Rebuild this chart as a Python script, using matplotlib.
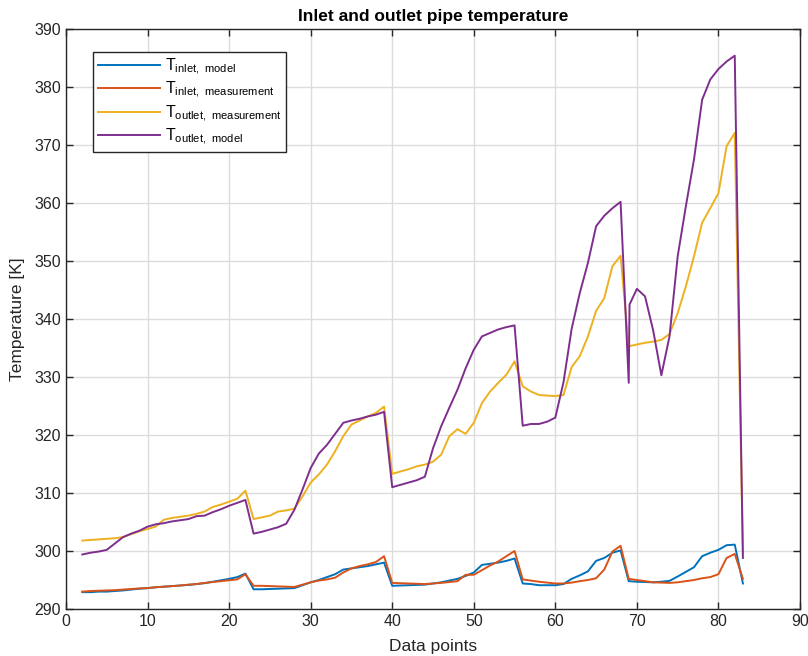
#!/usr/bin/env python
# -*- coding: utf-8 -*-

'''
Inlet and outlet pipe temperature, model vs. measurement.
'''

import matplotlib
matplotlib.use('Agg')
import matplotlib.pyplot as plt

plt.rcParams['font.family'] = ['Liberation Sans', 'DejaVu Sans']
plt.rcParams['mathtext.fontset'] = 'custom'
plt.rcParams['mathtext.rm'] = 'Liberation Sans'

# data points 2..83
x = list(range(2, 84))

t_inlet_model = [
    292.9, 292.9, 293.0, 293.0, 293.1, 293.2, 293.35, 293.5, 293.6, 293.75,
    293.85, 293.95, 294.05, 294.15, 294.3, 294.45, 294.7, 294.95, 295.2, 295.5,
    296.1, 293.4, 293.4, 293.45, 293.5, 293.55, 293.6, 294.1, 294.6, 295.0,
    295.5, 296.0, 296.8, 297.0, 297.2, 297.4, 297.7, 298.0, 294.0, 294.05,
    294.1, 294.15, 294.2, 294.4, 294.6, 294.9, 295.2, 295.7, 296.3, 297.6,
    297.8, 298.0, 298.3, 298.7, 294.4, 294.3, 294.1, 294.1, 294.1, 294.3,
    295.2, 295.8, 296.5, 298.3, 298.8, 299.7, 300.1, 294.8, 294.7, 294.65,
    294.6, 294.7, 294.85, 295.6, 296.4, 297.2, 299.1, 299.7, 300.2, 301.0,
    301.1, 294.4]

t_inlet_meas = [
    293.0, 293.1, 293.15, 293.2, 293.25, 293.35, 293.45, 293.55, 293.6, 293.75,
    293.85, 293.95, 294.05, 294.2, 294.3, 294.5, 294.65, 294.8, 294.95, 295.1,
    296.0, 294.0, 294.0, 293.95, 293.9, 293.85, 293.8, 294.2, 294.6, 294.9,
    295.1, 295.4, 296.3, 297.0, 297.4, 297.7, 298.1, 299.1, 294.5, 294.45,
    294.4, 294.35, 294.3, 294.4, 294.5, 294.65, 294.8, 295.9, 295.9, 296.7,
    297.5, 298.2, 299.1, 300.0, 295.1, 294.9, 294.7, 294.55, 294.4, 294.4,
    294.55, 294.8, 295.0, 295.3, 296.8, 299.9, 300.9, 295.2, 295.0, 294.8,
    294.6, 294.55, 294.5, 294.6, 294.8, 295.0, 295.3, 295.5, 296.0, 298.8,
    299.5, 295.2]

t_outlet_meas = [
    301.8, 301.9, 302.0, 302.1, 302.2, 302.4, 302.9, 303.4, 303.8, 304.2,
    305.4, 305.7, 305.9, 306.1, 306.4, 306.8, 307.6, 308.0, 308.5, 309.0,
    310.4, 305.5, 305.8, 306.1, 306.8, 307.0, 307.3, 309.4, 311.8, 313.2,
    314.9, 317.2, 319.8, 321.8, 322.5, 323.2, 323.8, 324.9, 313.3, 313.7,
    314.1, 314.6, 314.9, 315.4, 316.6, 319.8, 321.0, 320.2, 322.1, 325.5,
    327.5, 329.0, 330.4, 332.7, 328.4, 327.5, 326.9, 326.8, 326.7, 326.9,
    331.7, 333.6, 337.0, 341.4, 343.6, 349.1, 350.9, 335.3, 335.6, 335.9,
    336.1, 336.4, 337.4, 341.0, 345.6, 350.8, 356.6, 359.1, 361.7, 369.8,
    372.1, 299.5]

# the model outlet has an extra point right after the drop at 69
x_outlet_model = list(range(2, 70)) + [69.1] + list(range(70, 84))
t_outlet_model = [
    299.4, 299.7, 299.9, 300.2, 301.3, 302.4, 303.0, 303.5, 304.2, 304.6,
    304.8, 305.1, 305.3, 305.5, 306.0, 306.1, 306.7, 307.2, 307.8, 308.3,
    308.8, 303.0, 303.3, 303.7, 304.1, 304.7, 307.1, 310.6, 314.3, 316.8,
    318.3, 320.2, 322.1, 322.5, 322.8, 323.2, 323.5, 324.0, 311.0, 311.4,
    311.8, 312.2, 312.8, 317.7, 321.5, 324.7, 327.8, 331.5, 334.7, 337.0,
    337.6, 338.2, 338.6, 338.9, 321.6, 321.9, 321.9, 322.3, 323.0, 329.1,
    338.3, 344.5, 349.7, 356.0, 357.8, 359.1, 360.2, 329.0, 342.5, 345.2,
    343.9, 338.0, 330.3, 337.0, 350.8, 359.4, 367.5, 377.8, 381.3, 383.1,
    384.4, 385.4, 298.8]

fig = plt.figure(figsize=(8.08, 6.56), dpi=100)
ax = fig.add_axes([66 / 808, 1 - 609 / 656, 734 / 808, 580 / 656])

lw = 1.4
ax.plot(x, t_inlet_model, color='#0072BD', lw=lw,
        label=r'$\mathregular{T_{inlet,\ model}}$')
ax.plot(x, t_inlet_meas, color='#D95319', lw=lw,
        label=r'$\mathregular{T_{inlet,\ measurement}}$')
ax.plot(x, t_outlet_meas, color='#EDB120', lw=lw,
        label=r'$\mathregular{T_{outlet,\ measurement}}$')
ax.plot(x_outlet_model, t_outlet_model, color='#7E2F8E', lw=lw,
        label=r'$\mathregular{T_{outlet,\ model}}$')

ax.set_xlim(0, 90)
ax.set_ylim(290, 390)
ax.set_xticks(range(0, 91, 10))
ax.set_yticks(range(290, 391, 10))
ax.grid(True, color='#dcdcdc', lw=1)
ax.set_axisbelow(True)
ax.tick_params(direction='in', top=True, right=True, length=5,
               width=1, labelsize=11.5, colors='#262626')
for s in ax.spines.values():
    s.set_color('#262626')
    s.set_linewidth(1)

ax.set_xlabel('Data points', fontsize=12.5, color='#262626', labelpad=7)
ax.set_ylabel('Temperature [K]', fontsize=12.5, color='#262626', labelpad=7)
ax.set_title('Inlet and outlet pipe temperature', fontsize=12.5,
             fontweight='bold', pad=6)

leg = ax.legend(loc='upper left', bbox_to_anchor=(0.0368, 0.961),
                borderaxespad=0, fontsize=11.5, handlelength=3.9,
                frameon=True, fancybox=False, borderpad=0.3,
                labelspacing=0.2, handletextpad=0.3)
leg.get_frame().set_edgecolor('#262626')
leg.get_frame().set_linewidth(1)
leg.get_frame().set_alpha(1)

fig.savefig('out.png', dpi=100)
